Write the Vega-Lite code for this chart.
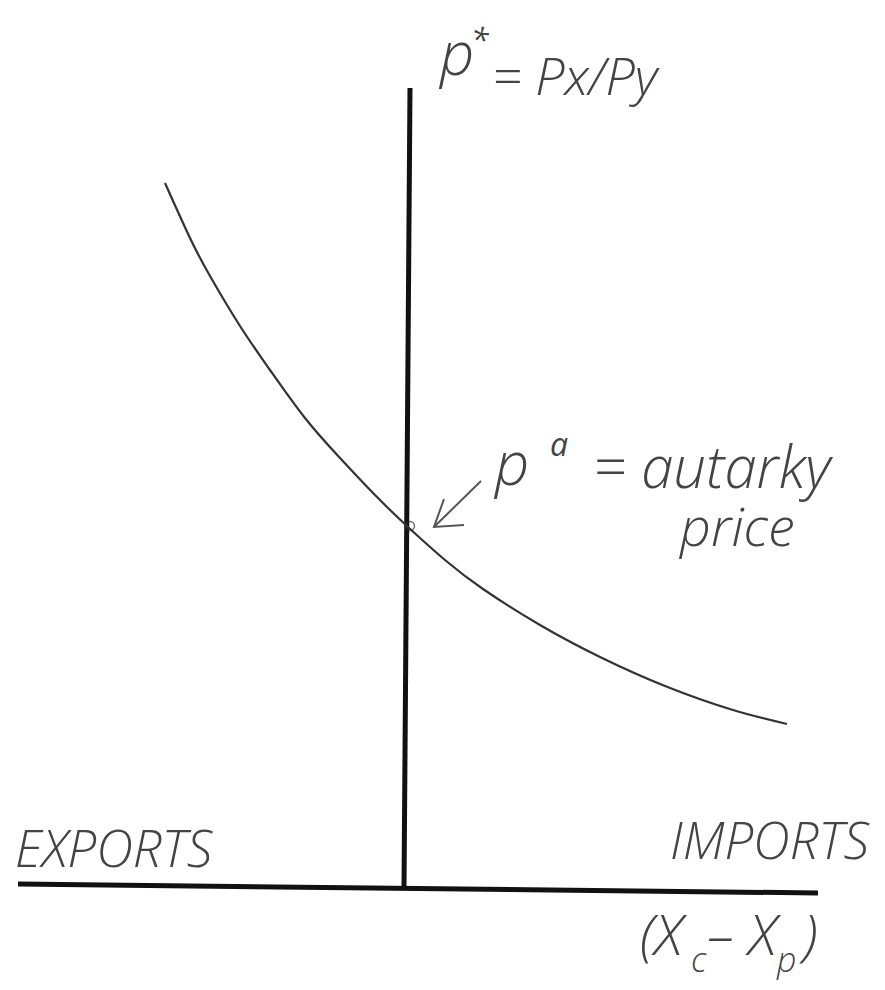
{
  "$schema": "https://vega.github.io/schema/vega-lite/v6.json",
  "width": 885,
  "height": 990,
  "autosize": {"type": "fit", "contains": "padding"},
  "padding": 0,
  "background": "white",
  "config": {"view": {"stroke": null}},
  "datasets": {
    "curve": [
      {"x": -242, "y": 703}, {"x": -217, "y": 648}, {"x": -197, "y": 610}, {"x": -167, "y": 560},
      {"x": -137, "y": 516}, {"x": -102, "y": 468}, {"x": -67, "y": 428}, {"x": -32, "y": 391},
      {"x": 1, "y": 359}, {"x": 38, "y": 326}, {"x": 76, "y": 297}, {"x": 133, "y": 261},
      {"x": 193, "y": 229}, {"x": 258, "y": 200}, {"x": 326, "y": 176}, {"x": 380, "y": 162}
    ],
    "axes": [
      {"line": "price", "x": 3, "y": 798}, {"line": "price", "x": -3, "y": -2},
      {"line": "quantity", "x": -389, "y": 2}, {"line": "quantity", "x": 411, "y": -7}
    ],
    "arrow": [
      {"seg": "shaft", "i": 0, "x": 74, "y": 405}, {"seg": "shaft", "i": 1, "x": 27, "y": 359},
      {"seg": "head", "i": 0, "x": 37, "y": 387}, {"seg": "head", "i": 1, "x": 27, "y": 359}, {"seg": "head", "i": 2, "x": 57, "y": 361}
    ],
    "autarky": [{"x": 3, "y": 360}],
    "big": [
      {"x": 33, "y": 811, "text": "p"},
      {"x": 88, "y": 401, "text": "p"}
    ],
    "mid": [
      {"x": 85, "y": 791, "text": "= Px/Py"}
    ],
    "wide": [
      {"x": 186, "y": 398, "text": "= autarky"}
    ],
    "wide2": [
      {"x": 273, "y": 340, "text": "price"}
    ],
    "sup": [
      {"x": 64, "y": 834, "text": "*"},
      {"x": 143, "y": 430, "text": "a"}
    ],
    "caps": [
      {"x": -392, "y": 19, "text": "EXPORTS"},
      {"x": 263, "y": 27, "text": "IMPORTS"}
    ],
    "paren": [
      {"x": 233, "y": -69, "text": "(X"},
      {"x": 300, "y": -69, "text": "– X"},
      {"x": 396, "y": -69, "text": ")"}
    ],
    "sub": [
      {"x": 284, "y": -86, "text": "c"},
      {"x": 370, "y": -86, "text": "p"}
    ]
  },
  "encoding": {
    "x": {"field": "x", "type": "quantitative", "scale": {"domain": [-407, 478], "nice": false, "zero": false}, "axis": null},
    "y": {"field": "y", "type": "quantitative", "scale": {"domain": [-104, 886], "nice": false, "zero": false}, "axis": null}
  },
  "layer": [
    {
      "data": {"name": "axes"},
      "mark": {"type": "line", "color": "#111111", "strokeWidth": 5, "strokeCap": "butt"},
      "encoding": {"detail": {"field": "line"}, "order": {"field": "y", "type": "quantitative"}}
    },
    {
      "data": {"name": "curve"},
      "mark": {"type": "line", "color": "#333333", "strokeWidth": 2.2, "interpolate": "natural"}
    },
    {
      "data": {"name": "arrow"},
      "mark": {"type": "line", "color": "#555555", "strokeWidth": 2, "strokeJoin": "miter"},
      "encoding": {"detail": {"field": "seg"}, "order": {"field": "i", "type": "quantitative"}}
    },
    {
      "data": {"name": "autarky"},
      "mark": {"type": "point", "shape": "circle", "size": 80, "filled": false, "color": "#333333", "strokeWidth": 1.5}
    },
    {
      "data": {"name": "big"},
      "mark": {"type": "text", "font": "Open Sans", "fontStyle": "italic", "fontWeight": 300, "fontSize": 60, "align": "left", "baseline": "alphabetic", "color": "#444444"},
      "encoding": {"text": {"field": "text"}}
    },
    {
      "data": {"name": "mid"},
      "mark": {"type": "text", "font": "Open Sans", "fontStyle": "italic", "fontWeight": 300, "fontSize": 52, "align": "left", "baseline": "alphabetic", "color": "#444444"},
      "encoding": {"text": {"field": "text"}}
    },
    {
      "data": {"name": "wide"},
      "mark": {"type": "text", "font": "Open Sans", "fontStyle": "italic", "fontWeight": 300, "fontSize": 58, "align": "left", "baseline": "alphabetic", "color": "#444444"},
      "encoding": {"text": {"field": "text"}}
    },
    {
      "data": {"name": "wide2"},
      "mark": {"type": "text", "font": "Open Sans", "fontStyle": "italic", "fontWeight": 300, "fontSize": 54, "align": "left", "baseline": "alphabetic", "color": "#444444"},
      "encoding": {"text": {"field": "text"}}
    },
    {
      "data": {"name": "sup"},
      "mark": {"type": "text", "font": "Open Sans", "fontStyle": "italic", "fontWeight": 400, "fontSize": 32, "align": "left", "baseline": "alphabetic", "color": "#444444"},
      "encoding": {"text": {"field": "text"}}
    },
    {
      "data": {"name": "caps"},
      "mark": {"type": "text", "font": "Open Sans", "fontStyle": "italic", "fontWeight": 300, "fontSize": 51, "align": "left", "baseline": "alphabetic", "color": "#444444"},
      "encoding": {"text": {"field": "text"}}
    },
    {
      "data": {"name": "paren"},
      "mark": {"type": "text", "font": "Open Sans", "fontStyle": "italic", "fontWeight": 300, "fontSize": 56, "align": "left", "baseline": "alphabetic", "color": "#444444"},
      "encoding": {"text": {"field": "text"}}
    },
    {
      "data": {"name": "sub"},
      "mark": {"type": "text", "font": "Open Sans", "fontStyle": "italic", "fontWeight": 300, "fontSize": 34, "align": "left", "baseline": "alphabetic", "color": "#444444"},
      "encoding": {"text": {"field": "text"}}
    }
  ]
}
